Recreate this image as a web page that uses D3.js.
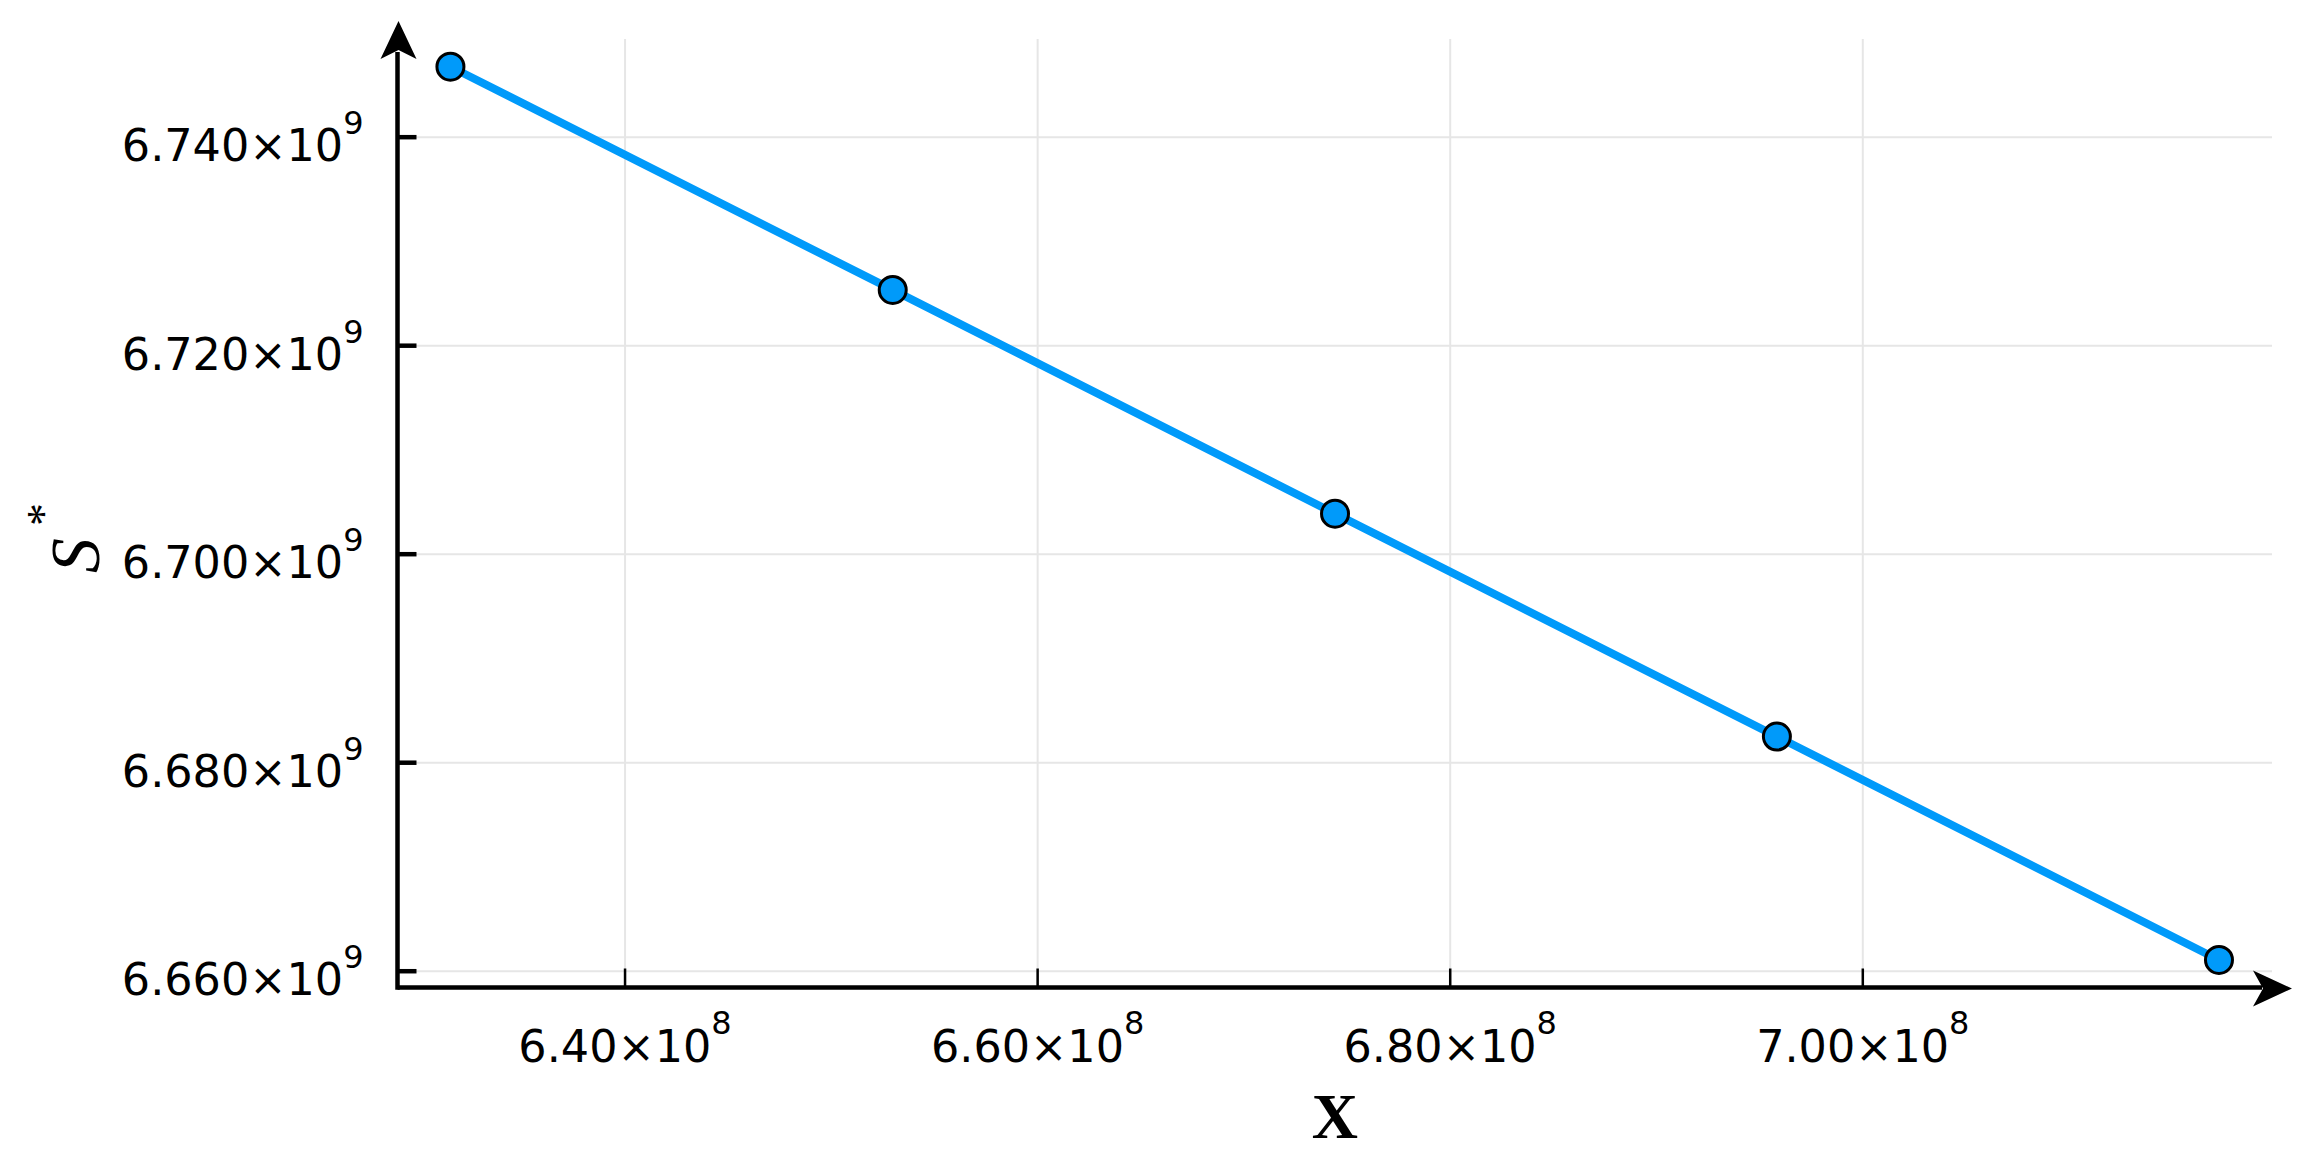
<!DOCTYPE html>
<html>
<head>
<meta charset="utf-8">
<script src="https://cdn.jsdelivr.net/npm/d3@7"></script>
<style>
  html, body { margin: 0; padding: 0; background: #ffffff; }
  svg { display: block; }
</style>
</head>
<body>
<script>
// ---- data ----
const xValues = [631.56e6, 653.00e6, 674.44e6, 695.86e6, 717.29e6];
const sValues = [6746.71e6, 6725.30e6, 6703.84e6, 6682.46e6, 6661.03e6];

const xTicks = [640e6, 660e6, 680e6, 700e6];
const xTickMantissa = ["6.40", "6.60", "6.80", "7.00"];
const xTickExponent = "8";

const yTicks = [6660e6, 6680e6, 6700e6, 6720e6, 6740e6];
const yTickMantissa = ["6.660", "6.680", "6.700", "6.720", "6.740"];
const yTickExponent = "9";

const xLabel = "X";
const yLabel = "S";
const yLabelSup = "*";

// ---- layout ----
const W = 2310, H = 1168;
const pLeft = 397.5, pRight = 2272, pTop = 39, pBottom = 987.5;
const blue = "#009afa";
const gridColor = "#e6e6e6";

const svg = d3.select("body").append("svg")
  .attr("width", W).attr("height", H)
  .attr("viewBox", `0 0 ${W} ${H}`);

const x = d3.scaleLinear().domain([628.994e6, 719.86e6]).range([pLeft, pRight]);
const y = d3.scaleLinear().domain([6658.39e6, 6749.37e6]).range([pBottom, pTop]);

// gridlines
const gx = svg.append("g").attr("transform", `translate(0,${pBottom})`)
  .call(d3.axisBottom(x).tickValues(xTicks).tickSize(-(pBottom - pTop)).tickFormat(""));
gx.select(".domain").remove();
gx.selectAll("line").attr("stroke", gridColor).attr("stroke-width", 2);

const gy = svg.append("g").attr("transform", `translate(${pLeft},0)`)
  .call(d3.axisLeft(y).tickValues(yTicks).tickSize(-(pRight - pLeft)).tickFormat(""));
gy.select(".domain").remove();
gy.selectAll("line").attr("stroke", gridColor).attr("stroke-width", 2);

// series line
const pts = xValues.map((v, i) => [v, sValues[i]]);
svg.append("path")
  .datum(pts)
  .attr("fill", "none")
  .attr("stroke", blue)
  .attr("stroke-width", 8)
  .attr("stroke-linejoin", "round")
  .attr("d", d3.line().x(d => x(d[0])).y(d => y(d[1])));

// markers
svg.append("g").selectAll("circle")
  .data(pts)
  .join("circle")
  .attr("cx", d => x(d[0]))
  .attr("cy", d => y(d[1]))
  .attr("r", 13.5)
  .attr("fill", blue)
  .attr("stroke", "#000")
  .attr("stroke-width", 3);

// axes ticks and labels
const ax = svg.append("g").attr("transform", `translate(0,${pBottom})`)
  .call(d3.axisBottom(x).tickValues(xTicks).tickSizeInner(-19).tickSizeOuter(0).tickPadding(0));
ax.select(".domain").remove();
ax.selectAll(".tick line").attr("stroke", "#000").attr("stroke-width", 2.5);
ax.selectAll(".tick text").each(function(d, i) {
  const t = d3.select(this);
  t.text(null)
    .attr("y", 74).attr("dy", null)
    .attr("text-anchor", "middle")
    .attr("fill", "#000")
    .style("font-family", "'DejaVu Sans'")
    .style("font-size", "44.5px");
  t.append("tspan").text(xTickMantissa[i] + "×10");
  t.append("tspan").text(xTickExponent).attr("dy", -28).style("font-size", "32px");
});

const ay = svg.append("g").attr("transform", `translate(${pLeft},0)`)
  .call(d3.axisLeft(y).tickValues(yTicks).tickSizeInner(-19).tickSizeOuter(0).tickPadding(0));
ay.select(".domain").remove();
ay.selectAll(".tick line").attr("stroke", "#000").attr("stroke-width", 4.5);
ay.selectAll(".tick text").each(function(d, i) {
  const t = d3.select(this);
  t.text(null)
    .attr("x", -34).attr("y", 24).attr("dy", null)
    .attr("text-anchor", "end")
    .attr("fill", "#000")
    .style("font-family", "'DejaVu Sans'")
    .style("font-size", "44.5px");
  t.append("tspan").text(yTickMantissa[i] + "×10");
  t.append("tspan").text(yTickExponent).attr("dy", -27).style("font-size", "32px");
});

// axis spines with arrows
const axisW = 4.5;
svg.append("line")
  .attr("x1", pLeft).attr("x2", 2262).attr("y1", pBottom).attr("y2", pBottom)
  .attr("stroke", "#000").attr("stroke-width", axisW);
svg.append("line")
  .attr("x1", pLeft).attr("x2", pLeft).attr("y1", pBottom + axisW / 2).attr("y2", 52)
  .attr("stroke", "#000").attr("stroke-width", axisW);

// x arrow head
svg.append("path")
  .attr("d", `M2292,${pBottom + 1} L2253,${pBottom - 17} L2263,${pBottom + 1} L2253,${pBottom + 19} Z`)
  .attr("fill", "#000");
// y arrow head
svg.append("path")
  .attr("d", `M${pLeft + 1},21 L${pLeft - 17},59 L${pLeft + 1},50 L${pLeft + 19},59 Z`)
  .attr("fill", "#000");

// axis titles
svg.append("text")
  .attr("x", (pLeft + pRight) / 2)
  .attr("y", 1137.7)
  .attr("text-anchor", "middle")
  .style("font-family", "'Liberation Serif'")
  .style("font-size", "64px")
  .style("font-weight", "bold")
  .attr("fill", "#000")
  .text(xLabel);

const yl = svg.append("text")
  .attr("transform", "translate(99,573) rotate(-90)")
  .attr("text-anchor", "start")
  .style("font-family", "'Liberation Serif'")
  .style("font-size", "70px")
  .style("font-style", "italic")
  .attr("fill", "#000");
yl.append("tspan").text(yLabel);
yl.append("tspan").text(yLabelSup).attr("dx", 12).attr("dy", -40)
  .style("font-style", "normal").style("font-size", "46px");
</script>
</body>
</html>
